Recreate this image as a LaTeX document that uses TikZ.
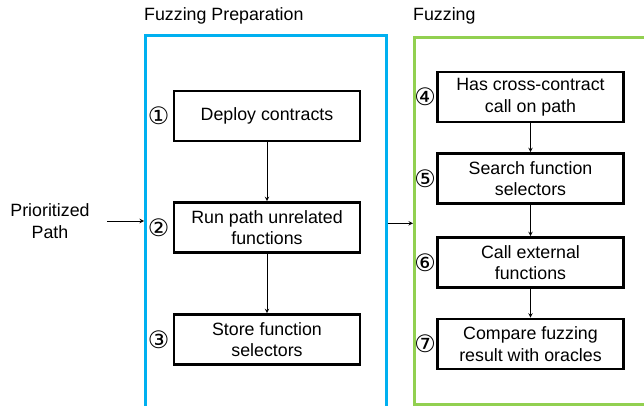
\documentclass[tikz,border=0pt]{standalone}
\usepackage{fontspec}
\setmainfont{Liberation Sans}
\newfontfamily\circfont{DejaVu Sans}
\usetikzlibrary{arrows,positioning}
\definecolor{prepblue}{RGB}{0,176,240}
\definecolor{fuzzgreen}{RGB}{146,208,80}
\begin{document}
\begin{tikzpicture}[x=1pt,y=-1pt,font=\fontsize{17.8}{21.5}\selectfont]
\tikzstyle stepbox=[draw,line width=2.6pt,minimum width=186pt,minimum height=50pt,align=center,inner sep=0pt]
\tikzstyle frame=[line width=2.6pt,minimum width=241pt,inner sep=0pt,anchor=north west]
\tikzstyle num=[font=\circfont\fontsize{24}{24}\selectfont,inner sep=0pt]
\tikzstyle arrow=[->,>=stealth,line width=1pt]
 \clip (0,0) rectangle (644,406);
 % frames
 \node[frame,draw=prepblue,minimum height=376pt] (prep) at (144,34) {};
 \node[frame,draw=fuzzgreen,minimum height=367pt,minimum width=250pt] (fuzz) at (413,36) {};
 \node[anchor=west,inner sep=0pt] (preptitle) at (144,16) {Fuzzing Preparation};
 \node[anchor=west,inner sep=0pt] (fuzztitle) at (413,16) {Fuzzing};
 % input
 \node[align=center] (pp) at (50,221) {Prioritized\\Path};
 % preparation steps
 \node[stepbox] (deploy) at (267,116) {Deploy contracts};
 \node[stepbox] (unrel) at (267,227.5) {Run path unrelated\\functions};
 \node[stepbox] (store) at (267,339.5) {Store function\\selectors};
 % fuzzing steps
 \node[stepbox] (cross) at (530.5,97) {Has cross-contract\\call on path};
 \node[stepbox] (search) at (530.5,178.5) {Search function\\selectors};
 \node[stepbox] (ext) at (530.5,262.5) {Call external\\functions};
 \node[stepbox] (oracle) at (530.5,344) {Compare fuzzing\\result with oracles};
 % numbers
 \node[num,left=3pt of deploy] (n1) {①};
 \node[num,left=3pt of unrel] (n2) {②};
 \node[num,left=3pt of store] (n3) {③};
 \node[num,left=0pt of cross] (n4) {④};
 \node[num,left=0pt of search] (n5) {⑤};
 \node[num,left=0pt of ext] (n6) {⑥};
 \node[num,left=0pt of oracle] (n7) {⑦};
 % connectors
 \draw[arrow] ([xshift=14pt]pp.east) -- (pp.east -| prep.west);
 \draw[arrow] (prep.east) -- (prep.east -| fuzz.west);
 \draw[arrow] (deploy) -- (unrel);
 \draw[arrow] (unrel) -- (store);
 \draw[arrow] (cross) -- (search);
 \draw[arrow] (search) -- (ext);
 \draw[arrow] (ext) -- (oracle);
\end{tikzpicture}
\end{document}
